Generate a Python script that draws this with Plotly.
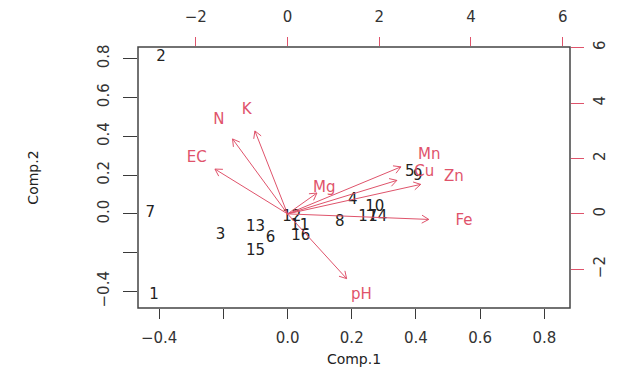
import math
import plotly.graph_objects as go

# ---- data: PCA scores (Comp.1, Comp.2) ----
obs_labels = ["1", "2", "3", "4", "5", "6", "7", "8", "9", "10",
              "11", "12", "13", "14", "15", "16", "17"]
score_c1 = [-0.416, -0.394, -0.209, 0.203, 0.381, -0.053, -0.428, 0.163, 0.406, 0.272,
            0.038, 0.013, -0.100, 0.281, -0.100, 0.041, 0.250]
score_c2 = [-0.421, 0.807, -0.108, 0.072, 0.216, -0.123, 0.005, -0.041, 0.195, 0.036,
            -0.062, -0.015, -0.067, -0.015, -0.195, -0.113, -0.015]

# ---- data: variable loadings (scaled, secondary axes) ----
var_labels = ["N", "K", "EC", "Mn", "Cu", "Zn", "Mg", "Fe", "pH"]
load_c1 = [-1.50, -0.89, -1.98, 3.09, 2.98, 3.63, 0.80, 3.85, 1.61]
load_c2 = [3.38, 3.74, 2.02, 2.12, 1.51, 1.33, 0.94, -0.25, -2.92]

x_ticks = [-0.4, -0.2, 0.0, 0.2, 0.4, 0.6, 0.8]
x_ticktext = ["\u22120.4", "", "0.0", "0.2", "0.4", "0.6", "0.8"]
y_ticks = [-0.4, -0.2, 0.0, 0.2, 0.4, 0.6, 0.8]
y_ticktext = ["\u22120.4", "", "0.0", "0.2", "0.4", "0.6", "0.8"]
sec_ticks = [-2, 0, 2, 4, 6]
sec_ticktext = ["\u22122", "0", "2", "4", "6"]

# ---- layout constants (page body adds an 8px offset) ----
W, H = 617, 379
ML, MR, MT, MB = 130, 55, 39, 79
XR = [-0.466, 0.88]
YR = [-0.485, 0.86]
RATIO = 7.0
X2R = [v * RATIO for v in XR]
Y2R = [v * RATIO for v in YR]
ARROW_COL = "#DF536B"
FONT = "DejaVu Sans, Liberation Sans, Arial, sans-serif"
TICK_COL = "#3a3a3a"

pw = W - ML - MR
ph = H - MT - MB
px_per_x2 = pw / (X2R[1] - X2R[0])
px_per_y2 = ph / (Y2R[1] - Y2R[0])

fig = go.Figure()

# arrows (to 0.8 of loading, as in R biplot)
head_len = 8.0
head_ang = math.radians(30)
for lx, ly in zip(load_c1, load_c2):
    tx, ty = 0.8 * lx, 0.8 * ly
    fig.add_trace(go.Scatter(x=[0, tx], y=[0, ty], xaxis="x2", yaxis="y2",
                             mode="lines", line=dict(color=ARROW_COL, width=1),
                             hoverinfo="skip", showlegend=False))
    dxp, dyp = tx * px_per_x2, ty * px_per_y2
    ang = math.atan2(dyp, dxp)
    hx, hy = [], []
    for s in (1, -1):
        a = ang + math.pi + s * head_ang
        hx.append(tx + head_len * math.cos(a) / px_per_x2)
        hy.append(ty + head_len * math.sin(a) / px_per_y2)
    fig.add_trace(go.Scatter(x=[hx[0], tx, hx[1]], y=[hy[0], ty, hy[1]],
                             xaxis="x2", yaxis="y2", mode="lines",
                             line=dict(color=ARROW_COL, width=1),
                             hoverinfo="skip", showlegend=False))

# variable labels
fig.add_trace(go.Scatter(x=load_c1, y=load_c2, xaxis="x2", yaxis="y2",
                         mode="text", text=var_labels,
                         textfont=dict(color=ARROW_COL, size=15, family=FONT),
                         hoverinfo="skip", showlegend=False))

# observation labels
fig.add_trace(go.Scatter(x=score_c1, y=score_c2, mode="text", text=obs_labels,
                         textfont=dict(color="#222222", size=15, family=FONT),
                         hoverinfo="skip", showlegend=False))

axis_common = dict(showgrid=False, zeroline=False, ticks="outside", automargin=False,
                   tickfont=dict(size=15, family=FONT, color="#333333"))
title_font = dict(size=14, family=FONT, color="#222222")

fig.update_layout(
    width=W, height=H,
    margin=dict(l=ML, r=MR, t=MT, b=MB, pad=0),
    paper_bgcolor="white", plot_bgcolor="white",
    font=dict(family=FONT),
    xaxis=dict(range=XR, tickvals=x_ticks, ticktext=x_ticktext, ticklen=10,
               tickcolor=TICK_COL, showline=False, ticklabelstandoff=6,
               title=dict(text="Comp.1", font=title_font, standoff=8),
               **axis_common),
    yaxis=dict(range=YR, tickvals=y_ticks, ticktext=y_ticktext, ticklen=14,
               tickcolor=TICK_COL, tickangle=-90, showline=False, ticklabelstandoff=8,
               title=dict(text="Comp.2", font=title_font, standoff=53),
               **axis_common),
    xaxis2=dict(range=X2R, overlaying="x", side="top", anchor="y",
                tickvals=sec_ticks, ticktext=sec_ticktext, ticklen=9,
                tickcolor=ARROW_COL, showline=False, ticklabelstandoff=9,
                **axis_common),
    yaxis2=dict(range=Y2R, overlaying="y", side="right", anchor="x",
                tickvals=sec_ticks, ticktext=sec_ticktext, ticklen=13,
                tickcolor=ARROW_COL, tickangle=-90, showline=False, ticklabelstandoff=3,
                **axis_common),
    shapes=[dict(type="rect", xref="paper", yref="paper", x0=0, y0=0, x1=1, y1=1,
                 line=dict(color="#444444", width=1.5))],
)

fig.write_html("out.html")
